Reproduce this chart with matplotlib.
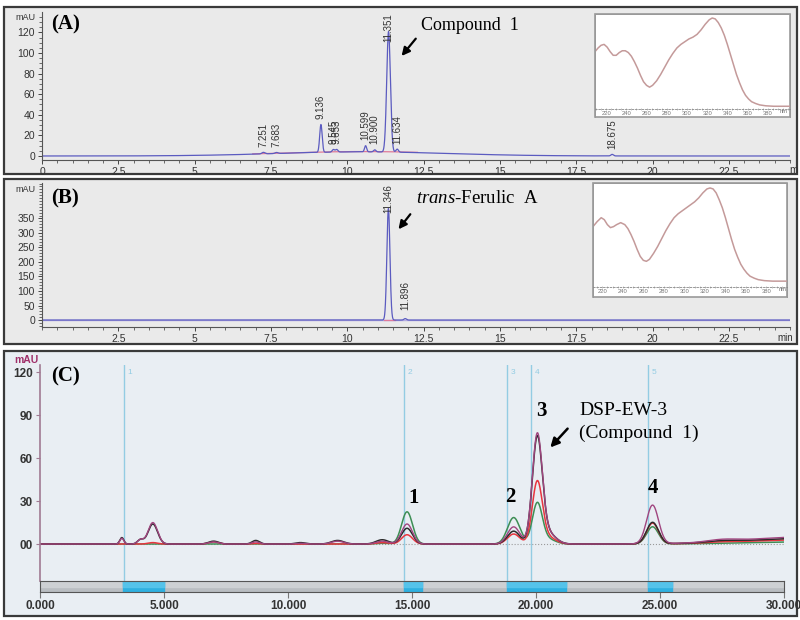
import numpy as np
import matplotlib
matplotlib.use("Agg")
import matplotlib.pyplot as plt
from matplotlib.patches import Rectangle
from matplotlib.ticker import MultipleLocator, FuncFormatter

plt.rcParams['font.family'] = ['Liberation Sans', 'DejaVu Sans']
plt.rcParams['mathtext.fontset'] = 'custom'
plt.rcParams['mathtext.it'] = 'Liberation Serif:italic'
plt.rcParams['mathtext.rm'] = 'Liberation Serif'

# ---------------- data ----------------
# Panel A (HPLC of compound 1)
a_rt = [7.251, 7.683, 9.136, 9.545, 9.653, 10.599, 10.900, 11.351, 11.634, 18.675]
a_height = [1.5, 1.0, 27.0, 2.5, 2.5, 6.0, 2.0, 117.0, 3.0, 1.5]
a_width = [0.05, 0.05, 0.04, 0.04, 0.04, 0.035, 0.04, 0.06, 0.04, 0.04]
a_drift = (10.5, 4.0, 2.8)          # centre, height, spread of baseline hump
# Panel B (trans-ferulic acid standard)
b_rt = [11.346, 11.896]
b_height = [384.0, 5.0]
b_width = [0.05, 0.04]
# UV spectra (inset), wavelength nm / relative absorbance
spec_a_nm = [209, 212, 215, 218, 221, 224, 227, 230, 233, 236, 239, 242, 245, 248, 251,
             254, 257, 260, 263, 266, 270, 274, 278, 282, 286, 290, 294, 298, 302, 306,
             310, 314, 318, 322, 325, 328, 331, 334, 337, 340, 343, 346, 349, 352, 355,
             358, 361, 364, 368, 372, 378, 386, 402]
spec_a_abs = [0.63, 0.67, 0.70, 0.71, 0.68, 0.63, 0.59, 0.59, 0.62, 0.64, 0.64, 0.62,
              0.58, 0.52, 0.45, 0.37, 0.30, 0.26, 0.24, 0.26, 0.31, 0.38, 0.46, 0.54,
              0.61, 0.67, 0.71, 0.74, 0.77, 0.79, 0.82, 0.87, 0.93, 0.98, 1.00, 0.99,
              0.95, 0.89, 0.81, 0.71, 0.60, 0.49, 0.38, 0.29, 0.21, 0.15, 0.11, 0.08,
              0.06, 0.045, 0.035, 0.03, 0.03]
spec_b_nm = [211, 215, 219, 222, 225, 228, 231, 234, 238, 242, 245, 248, 251, 254, 257,
             260, 263, 266, 270, 274, 278, 282, 286, 290, 294, 298, 302, 306, 310, 314,
             318, 322, 325, 328, 331, 334, 337, 340, 343, 346, 349, 352, 355, 358, 361,
             364, 368, 372, 378, 386, 400]
spec_b_abs = [0.61, 0.66, 0.70, 0.68, 0.63, 0.60, 0.61, 0.63, 0.65, 0.63, 0.59, 0.53,
              0.46, 0.38, 0.31, 0.27, 0.26, 0.28, 0.34, 0.41, 0.49, 0.57, 0.64, 0.70,
              0.74, 0.77, 0.80, 0.83, 0.86, 0.90, 0.95, 0.99, 1.00, 0.99, 0.95, 0.88,
              0.80, 0.70, 0.59, 0.48, 0.38, 0.30, 0.23, 0.18, 0.14, 0.11, 0.09, 0.075,
              0.065, 0.06, 0.06]
spec_ticks = [220, 240, 260, 280, 300, 320, 340, 360, 380]
# Panel C (HPLC of extracts; four detector traces)
c_rt = [3.30, 4.05, 4.55, 7.00, 8.70, 10.5, 12.0, 13.8, 14.80, 19.10, 20.05, 20.45, 24.70, 27.5, 31.0]
c_width = [0.08, 0.12, 0.19, 0.20, 0.15, 0.20, 0.25, 0.25, 0.22, 0.25, 0.20, 0.32, 0.24, 0.6, 2.5]
c_purple = [4.0, 3.0, 15.0, 1.5, 1.5, 0.5, 2.0, 2.0, 14.0, 12.0, 74.0, 8.0, 27.0, 1.5, 5.0]
c_black = [4.5, 3.0, 14.0, 2.0, 2.5, 1.0, 2.5, 3.0, 11.0, 9.0, 72.0, 8.0, 15.0, 1.0, 4.0]
c_red = [0.0, 0.0, 1.0, 1.5, 0.5, 0.0, 0.0, 1.0, 6.5, 7.0, 42.0, 5.0, 14.5, 0.5, 3.0]
c_green = [0.0, 0.0, 0.0, 0.0, 0.0, 0.0, 0.0, 0.5, 22.5, 18.5, 27.5, 3.5, 12.0, 0.0, 1.5]
c_marks = [3.39, 14.68, 18.83, 19.80, 24.50]
c_mark_labels = ['1', '2', '3', '4', '5']
c_seg_start = [3.35, 14.68, 18.83, 24.50]
c_seg_end = [5.00, 15.40, 21.20, 25.50]
c_peak_labels = ['1', '2', '3', '4']
c_peak_x = [15.05, 18.95, 20.2, 24.7]
c_peak_y = [32, 33, 93, 39]

W, H = 800, 620
fig = plt.figure(figsize=(8, 6.2), dpi=100)


def box(l, t, r, b):
    return [l / W, 1 - b / H, (r - l) / W, (b - t) / H]


def frame(l, t, r, b, fc):
    fig.add_artist(Rectangle((l / W, 1 - b / H), (r - l) / W, (b - t) / H,
                             transform=fig.transFigure, facecolor=fc,
                             edgecolor='#3a3a3a', lw=1.6, zorder=-1))


def peaks(x, rts, hs, ws):
    y = np.zeros_like(x)
    for r, h, w in zip(rts, hs, ws):
        y += h * np.exp(-0.5 * ((x - r) / w) ** 2)
    return y


def fmt_num(v, p):
    return ('%g' % v)


serif = ['Liberation Serif', 'DejaVu Serif']
tick_col = '#333333'

# ---------------- Panel A ----------------
frame(4, 7, 797, 174, '#EAEAEA')
axA = fig.add_axes(box(42, 12, 790, 160))
axA.set_facecolor('none')
xa = np.linspace(0, 24.5, 6000)
drift = a_drift[1] * np.exp(-0.5 * ((xa - a_drift[0]) / a_drift[2]) ** 2)
ya = drift + peaks(xa, a_rt, a_height, a_width)
mask = (xa > 6.9) & (xa < 12.3)
axA.plot(xa[mask], drift[mask] + 0.3, color='#E07A9A', lw=0.9)
axA.plot(xa, ya, color='#5B5BC0', lw=0.9)
axA.set_xlim(0, 24.5)
axA.set_ylim(-3.9, 139.8)
for r, h in zip(a_rt, a_height):
    top = h + a_drift[1] * np.exp(-0.5 * ((r - a_drift[0]) / a_drift[2]) ** 2)
    if top > 110:
        axA.text(r, 139.0, '%.3f' % r, rotation=90, ha='center', va='top',
                 fontsize=7, color='#333')
    else:
        axA.annotate('%.3f' % r, (r, top), xytext=(0, 4), textcoords='offset points',
                     rotation=90, ha='center', va='bottom', fontsize=7, color='#333')
axA.xaxis.set_minor_locator(MultipleLocator(0.5))
axA.yaxis.set_major_locator(MultipleLocator(20))
axA.yaxis.set_minor_locator(MultipleLocator(5))
axA.xaxis.set_major_formatter(FuncFormatter(fmt_num))
axA.set_xticks([v for v in np.arange(0, 24.5, 2.5)])
for s in ['top', 'right']:
    axA.spines[s].set_visible(False)
for s in ['left', 'bottom']:
    axA.spines[s].set_color('#555')
    axA.spines[s].set_linewidth(0.8)
axA.tick_params(which='major', labelsize=7.5, colors='#444', length=3, width=0.7, labelcolor=tick_col, pad=2)
axA.tick_params(which='minor', length=2, width=0.6, colors='#555')
fig.text(36 / W, 1 - 17 / H, 'mAU', fontsize=6.5, ha='right', va='center', color='#333')
fig.text(789 / W, 1 - 170 / H, 'm', fontsize=7.5, ha='left', va='center', color='#333')
axA.text(0.3, 128, '(A)', fontsize=15, fontweight='bold', family=serif, va='center')
axA.text(12.4, 127, 'Compound  1', fontsize=13, family=serif, va='center')
axA.annotate('', xy=(11.72, 95), xytext=(12.3, 116),
             arrowprops=dict(arrowstyle='-|>', color='black', lw=1.6, mutation_scale=12))

# inset A
inA = fig.add_axes(box(595, 14, 790, 117))
inA.set_facecolor('white')
inA.plot(spec_a_nm, spec_a_abs, color='#C49A9A', lw=1.1)
inA.set_xlim(209, 402)
inA.set_ylim(-0.088, 1.044)


def style_inset(ax):
    ax.spines['bottom'].set_position(('data', 0))
    ax.spines['bottom'].set_linestyle((0, (2, 2)))
    ax.spines['bottom'].set_color('#888')
    ax.spines['bottom'].set_linewidth(0.6)
    for s in ['top', 'left', 'right']:
        ax.spines[s].set_color('#999')
        ax.spines[s].set_linewidth(0.7)
    ax.add_patch(Rectangle((0, 0), 1, 1, transform=ax.transAxes, fill=False,
                           edgecolor='#999', lw=1.2, clip_on=False))
    ax.set_yticks([])
    ax.set_xticks(spec_ticks)
    ax.xaxis.set_minor_locator(MultipleLocator(5))
    ax.tick_params(which='both', direction='inout', length=2, width=0.4, colors='#999',
                   labelsize=4.2, labelcolor='#777', pad=0.5)
    ax.text(396, 0, 'nm', fontsize=4.2, color='#777', ha='center', va='top')


style_inset(inA)

# ---------------- Panel B ----------------
frame(4, 179, 797, 344, '#EAEAEA')
axB = fig.add_axes(box(42, 183, 790, 327))
axB.set_facecolor('none')
yb = peaks(xa, b_rt, b_height, b_width)
axB.axhline(1, color='#B4ACE0', lw=1.0)
bm = (xa > 11.2) & (xa < 11.55)
axB.plot(xa[bm], np.zeros(np.sum(bm)), color='#E07A9A', lw=0.9)
axB.plot(xa, yb, color='#5B5BC0', lw=0.9)
axB.set_xlim(0, 24.5)
axB.set_ylim(-24, 472)
for r, h in zip(b_rt, b_height):
    if h > 350:
        axB.text(r, 468, '%.3f' % r, rotation=90, ha='center', va='top', fontsize=7, color='#333')
    else:
        axB.annotate('%.3f' % r, (r, h), xytext=(0, 6), textcoords='offset points',
                     rotation=90, ha='center', va='bottom', fontsize=7, color='#333')
axB.set_xticks([v for v in np.arange(2.5, 24.5, 2.5)])
axB.xaxis.set_minor_locator(MultipleLocator(0.5))
axB.xaxis.set_major_formatter(FuncFormatter(fmt_num))
axB.set_yticks(np.arange(0, 351, 50))
axB.yaxis.set_minor_locator(MultipleLocator(10))
for s in ['top', 'right']:
    axB.spines[s].set_visible(False)
for s in ['left', 'bottom']:
    axB.spines[s].set_color('#555')
    axB.spines[s].set_linewidth(0.8)
axB.tick_params(which='major', labelsize=7.5, colors='#444', length=3, width=0.7, labelcolor=tick_col, pad=2)
axB.tick_params(which='minor', length=2, width=0.6, colors='#555')
fig.text(36 / W, 1 - 190 / H, 'mAU', fontsize=6.5, ha='right', va='center', color='#333')
fig.text(777 / W, 1 - 338 / H, 'min', fontsize=7, ha='left', va='center', color='#333')
axB.text(0.3, 420, '(B)', fontsize=15, fontweight='bold', family=serif, va='center')
axB.text(12.25, 420, r'$\it{trans}$-Ferulic  A', fontsize=13.5, family=serif, va='center')
axB.annotate('', xy=(11.62, 305), xytext=(12.12, 372),
             arrowprops=dict(arrowstyle='-|>', color='black', lw=1.6, mutation_scale=12))

inB = fig.add_axes(box(593, 183, 787, 297))
inB.set_facecolor('white')
inB.plot(spec_b_nm, spec_b_abs, color='#C49A9A', lw=1.1)
inB.set_xlim(211, 400)
inB.set_ylim(-0.1, 1.05)
style_inset(inB)

# ---------------- Panel C ----------------
frame(4, 351, 797, 616, '#E9EEF3')
axC = fig.add_axes(box(40, 365, 784, 581))
axC.set_facecolor('none')
xc = np.linspace(0, 30, 6000)
axC.axhline(0, color='#9A9A9A', ls=':', lw=0.8)
for m, lab in zip(c_marks, c_mark_labels):
    axC.axvline(m, color='#93CCE3', lw=1.0)
    axC.text(m + 0.15, 120, lab, color='#93CCE3', fontsize=6, va='center')
axC.plot(xc, peaks(xc, c_rt, c_green, c_width), color='#3E8E55', lw=1.1)
axC.plot(xc, peaks(xc, c_rt, c_red, c_width), color='#E8353F', lw=1.1)
axC.plot(xc, peaks(xc, c_rt, c_black, c_width), color='#2B2B2B', lw=1.1)
axC.plot(xc, peaks(xc, c_rt, c_purple, c_width), color='#A0457F', lw=1.0)
axC.set_xlim(0, 30)
axC.set_ylim(-25.8, 125)
axC.set_xticks([])
axC.set_yticks([0, 30, 60, 90, 120])
axC.set_yticklabels(['00', '30', '60', '90', '120'], fontweight='bold')
for s in ['top', 'right', 'bottom']:
    axC.spines[s].set_visible(False)
axC.spines['left'].set_color('#A07A92')
axC.spines['left'].set_linewidth(1.2)
axC.tick_params(axis='y', labelsize=8.5, colors='#A07A92', labelcolor='#333', length=3, width=0.8, pad=2)
fig.text(26 / W, 1 - 360 / H, 'mAU', fontsize=7.5, fontweight='bold', color='#A0306A',
         ha='center', va='center')
for lab, px, py in zip(c_peak_labels, c_peak_x, c_peak_y):
    axC.text(px, py, lab, fontsize=15, fontweight='bold', family=serif, ha='center', va='center')
axC.text(0.45, 117, '(C)', fontsize=15, fontweight='bold', family=serif, va='center')
axC.text(21.75, 93.5, 'DSP-EW-3', fontsize=14, family=serif, va='center')
axC.text(21.75, 77.5, '(Compound  1)', fontsize=14, family=serif, va='center')
axC.annotate('', xy=(20.5, 66), xytext=(21.35, 82),
             arrowprops=dict(arrowstyle='-|>', color='black', lw=1.8, mutation_scale=13))

barC = fig.add_axes(box(40, 581, 784, 592))
barC.set_xlim(0, 30)
barC.set_ylim(0, 1)
barC.axhspan(0, 1, color='#B9BDC1')
barC.axhspan(0.45, 1, color='#CDD0D3')
for s0, s1 in zip(c_seg_start, c_seg_end):
    barC.axvspan(s0, s1, ymin=0, ymax=1, color='#2FB0E0')
    barC.axvspan(s0, s1, ymin=0.5, ymax=1, color='#55C3EA')
barC.set_yticks([])
barC.set_xticks(np.arange(0, 31, 5))
barC.xaxis.set_major_formatter(FuncFormatter(lambda v, p: '%.3f' % v))
barC.tick_params(axis='x', labelsize=8.5, labelcolor='#333', colors='#777', length=4, width=0.8, pad=2)
for s in barC.spines.values():
    s.set_color('#555')
    s.set_linewidth(0.8)
for lab in barC.get_xticklabels():
    lab.set_fontweight('bold')

fig.savefig('out.png', dpi=100)
